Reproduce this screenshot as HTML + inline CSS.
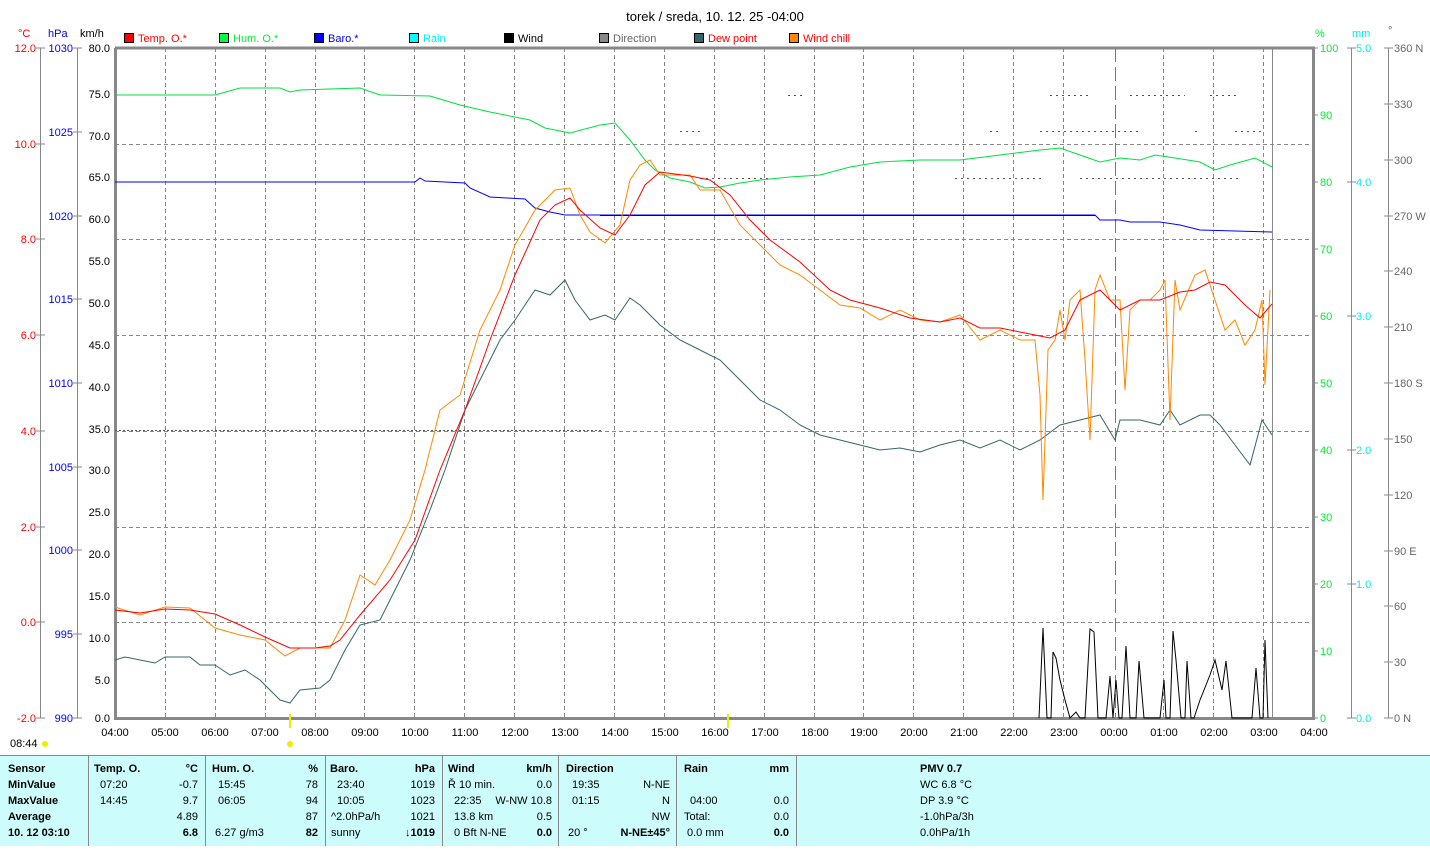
<!DOCTYPE html>
<html><head><meta charset="utf-8"><style>
body{margin:0;background:#fff;width:1430px;height:846px;overflow:hidden;font-family:"Liberation Sans",sans-serif}
svg text{font-family:"Liberation Sans",sans-serif;font-size:11px}
</style></head><body>
<svg width="1430" height="846" xmlns="http://www.w3.org/2000/svg">
<text x="715" y="21" text-anchor="middle" style="font-size:13px">torek / sreda, 10. 12. 25  -04:00</text>
<g style="font-size:11px">
<rect x="124.5" y="33.5" width="9" height="9" fill="#f00" stroke="#000"/><text x="138" y="42" fill="#f00">Temp. O.*</text>
<rect x="219.5" y="33.5" width="9" height="9" fill="#0f4" stroke="#000"/><text x="233" y="42" fill="#0e3">Hum. O.*</text>
<rect x="314.5" y="33.5" width="9" height="9" fill="#00f" stroke="#000"/><text x="328" y="42" fill="#00f">Baro.*</text>
<rect x="409.5" y="33.5" width="9" height="9" fill="#0ff" stroke="#000"/><text x="423" y="42" fill="#0ee">Rain</text>
<rect x="504.5" y="33.5" width="9" height="9" fill="#000" stroke="#000"/><text x="518" y="42">Wind</text>
<rect x="599.5" y="33.5" width="9" height="9" fill="#888" stroke="#000"/><text x="613" y="42" fill="#666">Direction</text>
<rect x="694.5" y="33.5" width="9" height="9" fill="#366" stroke="#000"/><text x="708" y="42" fill="#f00">Dew point</text>
<rect x="789.5" y="33.5" width="9" height="9" fill="#f80" stroke="#000"/><text x="803" y="42" fill="#f00">Wind chill</text>
</g>
<text x="18" y="37" fill="#f00">°C</text><text x="48" y="37" fill="#00f">hPa</text><text x="80" y="37">km/h</text>
<text x="1315" y="37" fill="#0e3">%</text><text x="1352" y="37" fill="#0ee">mm</text><text x="1388" y="34" fill="#666">°</text>
<g stroke="#888" stroke-dasharray="4,3" stroke-width="1">
<path d="M165.5 48V718M215.5 48V718M265.5 48V718M315.5 48V718M364.5 48V718M414.5 48V718M464.5 48V718M514.5 48V718M564.5 48V718M614.5 48V718M664.5 48V718M714.5 48V718M764.5 48V718M814.5 48V718M863.5 48V718M913.5 48V718M963.5 48V718M1013.5 48V718M1063.5 48V718M1163.5 48V718M1213.5 48V718M1263.5 48V718"/>
<path d="M115 144.5H1313M115 239.5H1313M115 335.5H1313M115 431.5H1313M115 527.5H1313M115 622.5H1313"/>
</g>
<path d="M1115.5 48V718" stroke="#777" stroke-dasharray="14,5"/>
<path d="M1272.5 48V718" stroke="#888"/>
<path d="M115.5 48V718.5H1313.5V48H115" fill="none" stroke="#888" stroke-width="3"/>
<g stroke="#888"><path d="M40.5 48V718M77.5 48V718"/></g>
<g fill="#f00" text-anchor="end">
<text x="36" y="52">12.0</text><text x="36" y="148">10.0</text><text x="36" y="243">8.0</text><text x="36" y="339">6.0</text><text x="36" y="435">4.0</text><text x="36" y="531">2.0</text><text x="36" y="626">0.0</text><text x="36" y="722">-2.0</text>
</g>
<g stroke="#888"><path d="M36 48h9M36 144h9M36 239h9M36 335h9M36 431h9M36 527h9M36 622h9M36 718h9"/>
<path d="M73 48h9M73 132h9M73 216h9M73 299h9M73 383h9M73 467h9M73 550h9M73 634h9M73 718h9"/></g>
<g fill="#00f" text-anchor="end">
<text x="73" y="52">1030</text><text x="73" y="136">1025</text><text x="73" y="220">1020</text><text x="73" y="303">1015</text><text x="73" y="387">1010</text><text x="73" y="471">1005</text><text x="73" y="554">1000</text><text x="73" y="638">995</text><text x="73" y="722">990</text>
</g>
<g text-anchor="end">
<text x="110" y="52">80.0</text><text x="110" y="98">75.0</text><text x="110" y="140">70.0</text><text x="110" y="181">65.0</text><text x="110" y="223">60.0</text><text x="110" y="265">55.0</text><text x="110" y="307">50.0</text><text x="110" y="349">45.0</text><text x="110" y="391">40.0</text><text x="110" y="433">35.0</text><text x="110" y="474">30.0</text><text x="110" y="516">25.0</text><text x="110" y="558">20.0</text><text x="110" y="600">15.0</text><text x="110" y="642">10.0</text><text x="110" y="684">5.0</text><text x="110" y="722">0.0</text>
</g>
<g stroke="#888"><path d="M1351.5 48V718M1388.5 48V718"/>
<path d="M1313 48h5M1313 115h5M1313 182h5M1313 249h5M1313 316h5M1313 383h5M1313 450h5M1313 517h5M1313 584h5M1313 651h5M1313 718h5"/>
<path d="M1347 48h9M1347 182h9M1347 316h9M1347 450h9M1347 584h9M1347 718h9"/>
<path d="M1384 48h9M1384 104h9M1384 160h9M1384 216h9M1384 271h9M1384 327h9M1384 383h9M1384 439h9M1384 495h9M1384 551h9M1384 606h9M1384 662h9M1384 718h9"/></g>
<g fill="#0e3"><text x="1320" y="52">100</text><text x="1320" y="119">90</text><text x="1320" y="186">80</text><text x="1320" y="253">70</text><text x="1320" y="320">60</text><text x="1320" y="387">50</text><text x="1320" y="454">40</text><text x="1320" y="521">30</text><text x="1320" y="588">20</text><text x="1320" y="655">10</text><text x="1320" y="722">0</text></g>
<g fill="#0ee"><text x="1356" y="52">5.0</text><text x="1356" y="186">4.0</text><text x="1356" y="320">3.0</text><text x="1356" y="454">2.0</text><text x="1356" y="588">1.0</text><text x="1356" y="722">0.0</text></g>
<g fill="#666"><text x="1394" y="52">360 N</text><text x="1394" y="108">330</text><text x="1394" y="164">300</text><text x="1394" y="220">270 W</text><text x="1394" y="275">240</text><text x="1394" y="331">210</text><text x="1394" y="387">180 S</text><text x="1394" y="443">150</text><text x="1394" y="499">120</text><text x="1394" y="555">90 E</text><text x="1394" y="610">60</text><text x="1394" y="666">30</text><text x="1394" y="722">0  N</text></g>
<g text-anchor="middle">
<text x="115" y="736">04:00</text><text x="165" y="736">05:00</text><text x="215" y="736">06:00</text><text x="265" y="736">07:00</text><text x="315" y="736">08:00</text><text x="365" y="736">09:00</text><text x="415" y="736">10:00</text><text x="465" y="736">11:00</text><text x="515" y="736">12:00</text><text x="565" y="736">13:00</text><text x="615" y="736">14:00</text><text x="665" y="736">15:00</text><text x="715" y="736">16:00</text><text x="765" y="736">17:00</text><text x="815" y="736">18:00</text><text x="864" y="736">19:00</text><text x="914" y="736">20:00</text><text x="964" y="736">21:00</text><text x="1014" y="736">22:00</text><text x="1064" y="736">23:00</text><text x="1114" y="736">00:00</text><text x="1164" y="736">01:00</text><text x="1214" y="736">02:00</text><text x="1264" y="736">03:00</text><text x="1314" y="736">04:00</text>
</g>
<path d="M290 714v14M728 714v14" stroke="#ee0" stroke-width="2"/>
<circle cx="290" cy="744" r="3" fill="#ee0"/><circle cx="45" cy="744" r="3" fill="#ee0"/>
<text x="10" y="747">08:44</text>
<path d="M115 430.5H603" stroke="#555" stroke-dasharray="2,2"/>
<path d="M600 215.5H1095" stroke="#000"/>
<path d="M700 178.5H770M955 178.5H1045M1080 178.5H1240" stroke="#555" stroke-dasharray="2,4"/>
<path d="M788 95.5H802M1050 95.5H1090M1130 95.5H1185M1210 95.5H1240M680 131.5H700M990 131.5H1000M1040 131.5H1140M1195 131.5H1200M1235 131.5H1265" stroke="#555" stroke-dasharray="2,4"/>
<g fill="none" stroke-width="1">
<polyline stroke="#00e040" points="115,95 215,95 240,88 280,88 290,92 300,90 360,88 380,95 430,96 460,105 490,112 530,120 545,128 570,133 600,125 615,123 630,140 645,160 655,170 670,178 690,182 705,188 720,187 740,183 760,180 790,177 820,175 850,167 880,162 920,160 960,160 1000,155 1040,150 1060,148 1080,155 1100,162 1120,158 1140,160 1155,155 1175,158 1200,162 1215,170 1230,165 1255,158 1272,167"/>
<polyline stroke="#00f" points="115,182 415,182 420,178 425,181 465,183 470,188 490,197 525,199 535,208 550,212 565,215 1095,215 1100,220 1120,220 1130,222 1160,222 1180,225 1200,230 1272,232"/>
<polyline stroke="#366" points="115,660 125,657 140,660 155,663 165,657 190,657 200,665 215,665 230,675 245,670 260,680 280,700 290,703 300,690 320,688 330,680 345,650 360,625 380,620 400,580 410,560 430,510 445,470 465,410 480,380 500,340 515,320 535,290 550,295 565,280 575,300 590,320 605,315 615,320 630,298 640,305 660,325 680,340 700,350 720,360 740,380 760,400 780,410 800,425 820,435 840,440 860,445 880,450 900,448 920,452 940,445 960,440 980,448 1000,440 1020,450 1040,440 1060,425 1080,420 1100,415 1115,440 1120,420 1140,420 1160,425 1170,410 1180,425 1200,415 1210,415 1220,425 1235,445 1250,465 1262,420 1272,435"/>
<polyline stroke="#f80" points="115,607 140,615 165,607 190,608 215,628 240,635 265,640 285,656 300,648 330,648 345,620 360,575 375,585 390,560 410,520 425,470 440,410 460,395 480,330 500,290 515,245 535,210 555,190 570,188 580,215 590,232 605,243 620,225 630,180 640,165 650,160 660,175 690,175 700,190 720,190 740,225 760,245 780,265 800,275 820,290 840,305 860,308 880,320 900,310 920,320 940,322 960,315 980,340 1000,330 1020,340 1035,340 1040,395 1043,500 1048,350 1055,340 1060,310 1065,340 1070,300 1080,290 1085,360 1090,440 1095,290 1100,275 1110,300 1120,300 1125,390 1130,310 1140,300 1150,300 1160,290 1165,280 1170,420 1175,280 1180,310 1195,275 1205,270 1215,300 1225,330 1235,320 1245,345 1255,330 1262,300 1265,385 1270,290"/>
<polyline stroke="#f00" points="115,610 140,613 165,609 190,610 215,614 240,625 265,637 290,648 315,648 330,646 340,640 360,615 390,580 415,540 440,470 465,410 490,340 515,275 540,220 555,205 570,198 580,210 600,228 615,235 630,215 645,185 660,172 690,176 710,180 730,195 750,220 770,240 800,262 830,290 850,300 880,308 910,318 940,322 960,318 980,328 1000,328 1020,332 1050,338 1065,330 1080,300 1100,290 1120,310 1140,300 1160,300 1180,292 1195,290 1210,282 1225,285 1245,305 1260,318 1272,304"/>
<polyline stroke="#000" points="1039,718 1043,628 1047,718 1051,718 1053,652 1056,658 1060,680 1065,700 1070,718 1076,712 1080,718 1085,718 1090,629 1094,632 1098,718 1106,718 1110,676 1113,718 1116,680 1119,718 1122,718 1126,646 1130,718 1136,718 1139,661 1144,718 1160,718 1164,680 1166,718 1170,718 1173,631 1176,660 1181,718 1185,718 1187,661 1191,718 1194,718 1200,700 1210,675 1215,660 1222,690 1226,661 1232,718 1252,718 1256,668 1260,718 1263,718 1265,640 1268,718"/>
</g>
<rect x="0" y="755" width="1430" height="91" fill="#ccfcfc"/>
<path d="M0 755.5H1430" stroke="#888"/>
<g stroke="#888"><path d="M88.5 755V846M205.5 755V846M325.5 755V846M442.5 755V846M558.5 755V846M676.5 755V846M796.5 755V846"/></g>
<g style="font-size:11px">
<g font-weight="bold"><text x="8" y="772">Sensor</text><text x="8" y="788">MinValue</text><text x="8" y="804">MaxValue</text><text x="8" y="820">Average</text><text x="8" y="836">10. 12 03:10</text>
<text x="94" y="772">Temp. O.</text><text x="198" y="772" text-anchor="end">°C</text>
<text x="212" y="772">Hum. O.</text><text x="318" y="772" text-anchor="end">%</text>
<text x="330" y="772">Baro.</text><text x="435" y="772" text-anchor="end">hPa</text>
<text x="448" y="772">Wind</text><text x="552" y="772" text-anchor="end">km/h</text>
<text x="566" y="772">Direction</text>
<text x="684" y="772">Rain</text><text x="789" y="772" text-anchor="end">mm</text>
<text x="198" y="836" text-anchor="end">6.8</text><text x="318" y="836" text-anchor="end">82</text><text x="435" y="836" text-anchor="end">↓1019</text><text x="552" y="836" text-anchor="end">0.0</text><text x="670" y="836" text-anchor="end">N-NE±45°</text><text x="789" y="836" text-anchor="end">0.0</text></g>
<text x="100" y="788">07:20</text><text x="198" y="788" text-anchor="end">-0.7</text>
<text x="100" y="804">14:45</text><text x="198" y="804" text-anchor="end">9.7</text>
<text x="198" y="820" text-anchor="end">4.89</text>
<text x="218" y="788">15:45</text><text x="318" y="788" text-anchor="end">78</text>
<text x="218" y="804">06:05</text><text x="318" y="804" text-anchor="end">94</text>
<text x="318" y="820" text-anchor="end">87</text><text x="215" y="836">6.27 g/m3</text>
<text x="337" y="788">23:40</text><text x="435" y="788" text-anchor="end">1019</text>
<text x="337" y="804">10:05</text><text x="435" y="804" text-anchor="end">1023</text>
<text x="331" y="820">^2.0hPa/h</text><text x="435" y="820" text-anchor="end">1021</text><text x="331" y="836">sunny</text>
<text x="448" y="788">Ř 10 min.</text><text x="552" y="788" text-anchor="end">0.0</text>
<text x="454" y="804">22:35</text><text x="552" y="804" text-anchor="end">W-NW 10.8</text>
<text x="454" y="820">13.8 km</text><text x="552" y="820" text-anchor="end">0.5</text>
<text x="454" y="836">0 Bft N-NE</text>
<text x="572" y="788">19:35</text><text x="670" y="788" text-anchor="end">N-NE</text>
<text x="572" y="804">01:15</text><text x="670" y="804" text-anchor="end">N</text>
<text x="670" y="820" text-anchor="end">NW</text><text x="568" y="836">20 °</text>
<text x="690" y="804">04:00</text><text x="789" y="804" text-anchor="end">0.0</text>
<text x="684" y="820">Total:</text><text x="789" y="820" text-anchor="end">0.0</text><text x="687" y="836">0.0 mm</text>
<text x="920" y="772" font-weight="bold">PMV 0.7</text>
<text x="920" y="788">WC 6.8 °C</text><text x="920" y="804">DP 3.9 °C</text><text x="920" y="820">-1.0hPa/3h</text><text x="920" y="836">0.0hPa/1h</text>
</g>
</svg>
</body></html>
